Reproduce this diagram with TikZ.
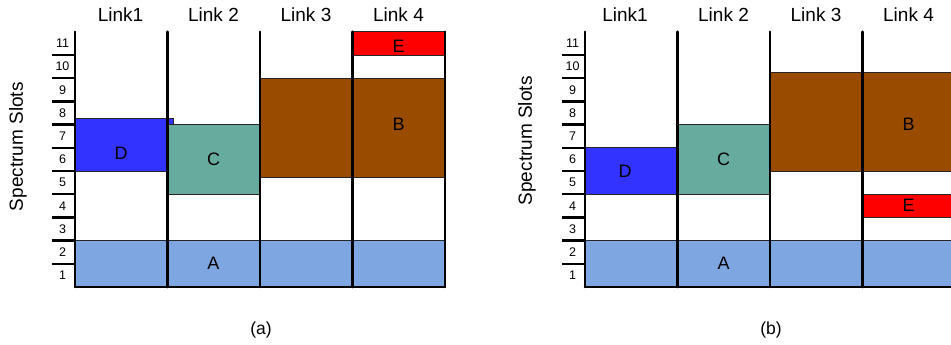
\documentclass[tikz,border=0pt]{standalone}
\usepackage{fontspec}
\setmainfont{Liberation Sans}
\usepackage{xcolor}
\usepackage{tikz}
\usetikzlibrary{positioning}

\definecolor{slotA}{HTML}{7EA6E0}
\definecolor{slotB}{HTML}{994C00}
\definecolor{slotC}{HTML}{67AB9F}
\definecolor{slotD}{HTML}{3333FF}
\definecolor{slotE}{HTML}{FF0000}

\begin{document}
\begin{tikzpicture}[
  x=1pt, y=1pt,
  blk/.style={draw=black!85, line width=0.8pt},
  rail/.style={line width=2.6pt, line cap=round},
  tickmark/.style={line width=2.4pt},
  lnk/.style={font=\fontsize{19}{22}\selectfont, inner sep=0pt},
  lbl/.style={font=\fontsize{18}{21}\selectfont, inner sep=0pt},
  num/.style={font=\fontsize{12.5}{14}\selectfont, inner sep=0pt},
  captxt/.style={font=\fontsize{17.5}{20}\selectfont, inner sep=0pt}
]
\useasboundingbox (0,0) rectangle (951,345);

% panel (a)
\begin{scope}[shift={(75,58)}, y=23.2pt]
  \draw[blk, fill=slotA] (0,0) rectangle (370,2);
  \draw[blk, fill=slotD] (0,5) rectangle (98,7.28);
  \draw[blk, fill=slotC] (92.5,4) rectangle (185,7);
  \draw[blk, fill=slotB] (185,4.74) rectangle (370,9);
  \draw[blk, fill=slotE] (277.5,10) rectangle (370,11);
  \draw[rail] (0,0) -- (0,11);
  \draw[rail] (92.5,0) -- (92.5,11);
  \draw[rail] (185,0) -- (185,11);
  \draw[rail] (277.5,0) -- (277.5,11);
  \draw[rail] (370,0) -- (370,11);
  \draw[rail] (0,0) -- (370,0);
  \foreach \k in {1,...,10} \draw[tickmark] (-23,\k) -- (0,\k);
  \foreach \k in {1,...,11} \node[num] (a-n\k) at (-12.5,\k-0.5) {\k};
  \node[lnk] (a-l1) at (45.5,11.72) {Link1};
  \node[lnk] (a-l2) at (138.5,11.72) {Link 2};
  \node[lnk] (a-l3) at (231,11.72) {Link 3};
  \node[lnk] (a-l4) at (323.5,11.72) {Link 4};
  \node[lnk, rotate=90] (a-ax) at (-57,6.05) {Spectrum Slots};
  \node[lbl] (a-A) at (138.5,1) {A};
  \node[lbl] (a-B) at (323.5,7) {B};
  \node[lbl] (a-C) at (138.5,5.5) {C};
  \node[lbl] (a-D) at (46,5.78) {D};
  \node[lbl] (a-E) at (323.5,10.39) {E};
  \node[captxt] (a-cap) at (186,-1.85) {(a)};
\end{scope}

% panel (b)
\begin{scope}[shift={(585,58)}, y=23.2pt]
  \draw[blk, fill=slotA] (0,0) rectangle (370,2);
  \draw[blk, fill=slotD] (0,4) rectangle (92.5,6);
  \draw[blk, fill=slotC] (92.5,4) rectangle (185,7);
  \draw[blk, fill=slotB] (185,5) rectangle (370,9.27);
  \draw[blk, fill=slotE] (277.5,3) rectangle (370,4);
  \draw[rail] (0,0) -- (0,11);
  \draw[rail] (92.5,0) -- (92.5,11);
  \draw[rail] (185,0) -- (185,11);
  \draw[rail] (277.5,0) -- (277.5,11);
  \draw[rail] (370,0) -- (370,11);
  \draw[rail] (0,0) -- (370,0);
  \foreach \k in {1,...,10} \draw[tickmark] (-23,\k) -- (0,\k);
  \foreach \k in {1,...,11} \node[num] (b-n\k) at (-12.5,\k-0.5) {\k};
  \node[lnk] (b-l1) at (40,11.72) {Link1};
  \node[lnk] (b-l2) at (138.5,11.72) {Link 2};
  \node[lnk] (b-l3) at (231,11.72) {Link 3};
  \node[lnk] (b-l4) at (323.5,11.72) {Link 4};
  \node[lnk, rotate=90] (b-ax) at (-58,6.3) {Spectrum Slots};
  \node[lbl] (b-A) at (138.5,1) {A};
  \node[lbl] (b-B) at (323.5,7) {B};
  \node[lbl] (b-C) at (138.5,5.5) {C};
  \node[lbl] (b-D) at (40,5) {D};
  \node[lbl] (b-E) at (323.5,3.5) {E};
  \node[captxt] (b-cap) at (186,-1.85) {(b)};
\end{scope}
\end{tikzpicture}
\end{document}
